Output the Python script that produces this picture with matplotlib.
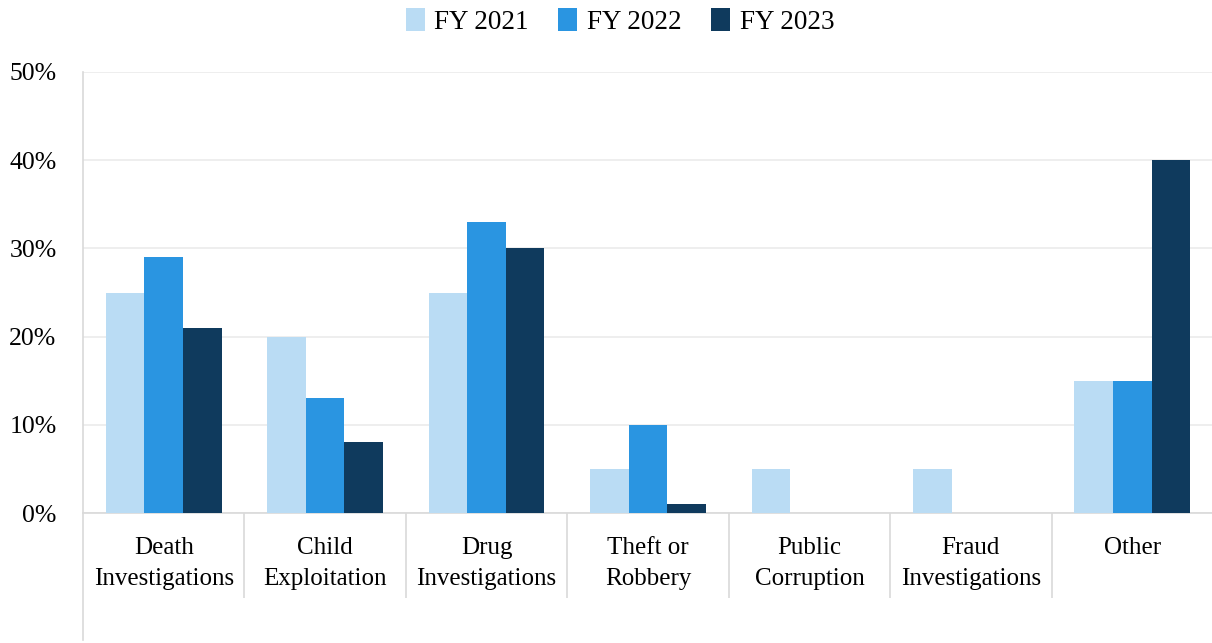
import matplotlib.pyplot as plt
import numpy as np

# Datos del grafico
categorias = ["Death\nInvestigations", "Child\nExploitation", "Drug\nInvestigations",
              "Theft or\nRobbery", "Public\nCorruption", "Fraud\nInvestigations", "Other"]
fy2021 = [25, 20, 25, 5, 5, 5, 15]
fy2022 = [29, 13, 33, 10, 0, 0, 15]
fy2023 = [21, 8, 30, 1, 0, 0, 40]
series = ["FY 2021", "FY 2022", "FY 2023"]
colores = ["#BADCF4", "#2A95E1", "#0F3A5D"]

plt.rcParams['font.family'] = ['Liberation Serif', 'DejaVu Serif']

fig = plt.figure(figsize=(12.12, 6.43), dpi=100)
ax = fig.add_axes([83 / 1212, 130 / 643, 1130 / 1212, 441 / 643])

x = np.arange(len(categorias))
ancho = 0.239
for i, (valores, nombre, color) in enumerate(zip([fy2021, fy2022, fy2023], series, colores)):
    ax.bar(x + (i - 1) * ancho, valores, ancho, color=color, label=nombre, zorder=3)

gris = "#D9D9D9"
ax.set_xlim(-0.5, len(categorias) - 0.5)
ax.set_ylim(0, 50)
ax.set_yticks(range(0, 51, 10))
ax.set_yticklabels([f"{v}%" for v in range(0, 51, 10)], fontsize=18.5)
ax.yaxis.grid(True, color="#EBEBEB", linewidth=1.2, zorder=0)
ax.tick_params(axis='y', length=0, pad=19)

ax.set_xticks(x)
ax.set_xticklabels(categorias, fontsize=18, linespacing=1.58)
ax.tick_params(axis='x', which='major', length=0, pad=17)
ax.set_xticks(np.arange(0.5, len(categorias) - 1, 1), minor=True)
ax.tick_params(axis='x', which='minor', length=61, color=gris, width=1.2, direction='out')

for lado in ['top', 'right', 'left']:
    ax.spines[lado].set_visible(False)
ax.spines['bottom'].set_color(gris)
ax.spines['bottom'].set_linewidth(1.2)
ax.plot([0, 0], [-0.288, 1], transform=ax.transAxes, color=gris, linewidth=1.2, clip_on=False)

ax.legend(loc='upper center', bbox_to_anchor=(0.5 - 28 / 1130, 1.2), ncol=3, frameon=False,
          fontsize=19.5, handlelength=0.7, handleheight=0.9, handletextpad=0.35, columnspacing=1.1)

fig.savefig("out.png", dpi=100)
